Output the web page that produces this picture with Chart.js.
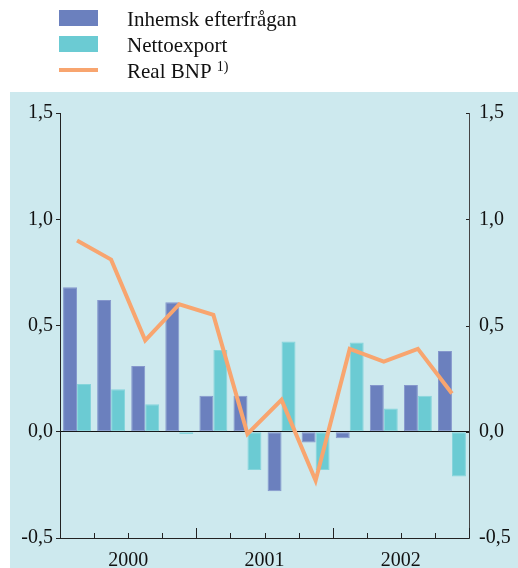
<!DOCTYPE html>
<html>
<head>
<meta charset="utf-8">
<script src="https://cdn.jsdelivr.net/npm/chart.js@4"></script>
<style>
  html, body { margin: 0; padding: 0; background: #fff; }
  #wrap { position: relative; width: 518px; height: 568px; }
</style>
</head>
<body>
<div id="wrap"><canvas id="chart" width="518" height="568"></canvas></div>
<script>
// Quarterly data 2000–2002
const quarters = ['2000 K1', '2000 K2', '2000 K3', '2000 K4',
                  '2001 K1', '2001 K2', '2001 K3', '2001 K4',
                  '2002 K1', '2002 K2', '2002 K3', '2002 K4'];
const years = ['2000', '2001', '2002'];
const inhemsk = [0.68, 0.62, 0.31, 0.61, 0.17, 0.17, -0.28, -0.05, -0.03, 0.22, 0.22, 0.38];
const netto = [0.225, 0.20, 0.13, -0.01, 0.385, -0.18, 0.425, -0.18, 0.42, 0.11, 0.17, -0.21];
const bnp = [0.90, 0.81, 0.43, 0.60, 0.55, -0.01, 0.15, -0.23, 0.39, 0.33, 0.39, 0.18];
const yTicks = [-0.5, 0, 0.5, 1.0, 1.5];

const serif = "'Liberation Serif', 'DejaVu Serif', serif";
const fmt = v => v.toFixed(1).replace('.', ',');

// Background panel + legend + inner ticks
const decor = {
    id: 'decor',
    beforeDraw(chart) {
        const { ctx } = chart;
        ctx.save();
        ctx.fillStyle = '#cde9ee';
        ctx.fillRect(10, 92, chart.width - 10, chart.height - 92);
        ctx.restore();
    },
    afterDraw(chart) {
        const { ctx, chartArea } = chart;
        const x = chart.scales.x;
        const yR = chart.scales.y2;
        ctx.save();
        ctx.strokeStyle = '#222';
        ctx.lineWidth = 1;
        // x ticks pointing up, longer at year boundaries
        const n = quarters.length;
        const w = (chartArea.right - chartArea.left) / n;
        for (let i = 1; i <= n; i++) {
            const px = Math.round(chartArea.left + i * w) + 0.5;
            const len = i % 4 === 0 ? 10 : 5;
            ctx.beginPath();
            ctx.moveTo(px, chartArea.bottom);
            ctx.lineTo(px, chartArea.bottom - len);
            ctx.stroke();
        }
        // right axis ticks pointing inward
        yTicks.forEach(v => {
            const py = Math.round(yR.getPixelForValue(v)) + 0.5;
            ctx.beginPath();
            ctx.moveTo(chartArea.right, py);
            ctx.lineTo(chartArea.right - 3, py);
            ctx.stroke();
        });

        // legend
        const rows = [
            { ds: chart.data.datasets[1], y: 18, type: 'box' },
            { ds: chart.data.datasets[2], y: 44, type: 'box' },
            { ds: chart.data.datasets[0], y: 70, type: 'line' }
        ];
        ctx.font = '21px ' + serif;
        ctx.textBaseline = 'alphabetic';
        ctx.fillStyle = '#111';
        rows.forEach(r => {
            if (r.type === 'box') {
                ctx.fillStyle = r.ds.backgroundColor;
                ctx.fillRect(59, r.y - 8, 39, 16);
            } else {
                ctx.fillStyle = r.ds.borderColor;
                ctx.fillRect(59, r.y - 2, 39, 4);
            }
            ctx.fillStyle = '#111';
            ctx.font = '21px ' + serif;
            ctx.fillText(r.ds.label, 127, r.y + 8);
            if (r.ds.note) {
                const tw = ctx.measureText(r.ds.label + ' ').width;
                ctx.font = '14px ' + serif;
                ctx.fillText(r.ds.note, 127 + tw, r.y + 1);
            }
        });
        ctx.restore();
    }
};

const ctx = document.getElementById('chart').getContext('2d');
new Chart(ctx, {
    data: {
        labels: quarters,
        datasets: [
            {
                type: 'line',
                label: 'Real BNP',
                note: '1)',
                data: bnp,
                borderColor: '#f8a56f',
                borderWidth: 4,
                pointRadius: 0,
                tension: 0,
                order: 0
            },
            {
                type: 'bar',
                label: 'Inhemsk efterfrågan',
                data: inhemsk,
                backgroundColor: '#6b80be',
                borderColor: '#8597cc',
                borderWidth: 1,
                borderSkipped: false,
                barPercentage: 1.0,
                categoryPercentage: 0.82,
                order: 1
            },
            {
                type: 'bar',
                label: 'Nettoexport',
                data: netto,
                backgroundColor: '#6bcbd3',
                borderColor: '#86d5db',
                borderWidth: 1,
                borderSkipped: false,
                barPercentage: 1.0,
                categoryPercentage: 0.82,
                order: 1
            }
        ]
    },
    options: {
        responsive: false,
        animation: false,
        layout: { padding: { top: 113, left: 0, right: 0, bottom: 0 } },
        plugins: {
            legend: { display: false },
            tooltip: { enabled: false }
        },
        scales: {
            x: {
                type: 'category',
                position: 'bottom',
                offset: true,
                grid: { display: false },
                border: { display: true, color: '#222', width: 1 },
                ticks: { display: false },
                afterFit: s => { s.height = 0; }
            },
            xYear: {
                type: 'category',
                position: 'bottom',
                labels: years,
                offset: true,
                grid: { display: false },
                border: { display: false },
                ticks: {
                    color: '#111',
                    font: { family: serif, size: 20 },
                    padding: 3,
                    maxRotation: 0
                },
                afterFit: s => { s.height = 30; }
            },
            y: {
                position: 'left',
                min: -0.5,
                max: 1.5,
                afterBuildTicks: s => { s.ticks = yTicks.map(v => ({ value: v })); },
                grid: {
                    drawOnChartArea: true,
                    color: c => (c.tick && c.tick.value === 0 ? '#111' : 'rgba(0,0,0,0)'),
                    tickColor: '#222',
                    tickLength: 4,
                    lineWidth: 1
                },
                border: { display: true, color: '#222', width: 1 },
                ticks: {
                    color: '#111',
                    font: { family: serif, size: 20 },
                    padding: 3,
                    callback: v => fmt(v)
                },
                afterFit: s => { s.width = 60; }
            },
            y2: {
                position: 'right',
                min: -0.5,
                max: 1.5,
                afterBuildTicks: s => { s.ticks = yTicks.map(v => ({ value: v })); },
                grid: { drawOnChartArea: false, drawTicks: false },
                border: { display: true, color: '#444', width: 1 },
                ticks: {
                    color: '#111',
                    font: { family: serif, size: 20 },
                    padding: 10,
                    callback: v => fmt(v)
                },
                afterFit: s => { s.width = 49; }
            }
        }
    },
    plugins: [decor]
});
</script>
</body>
</html>
